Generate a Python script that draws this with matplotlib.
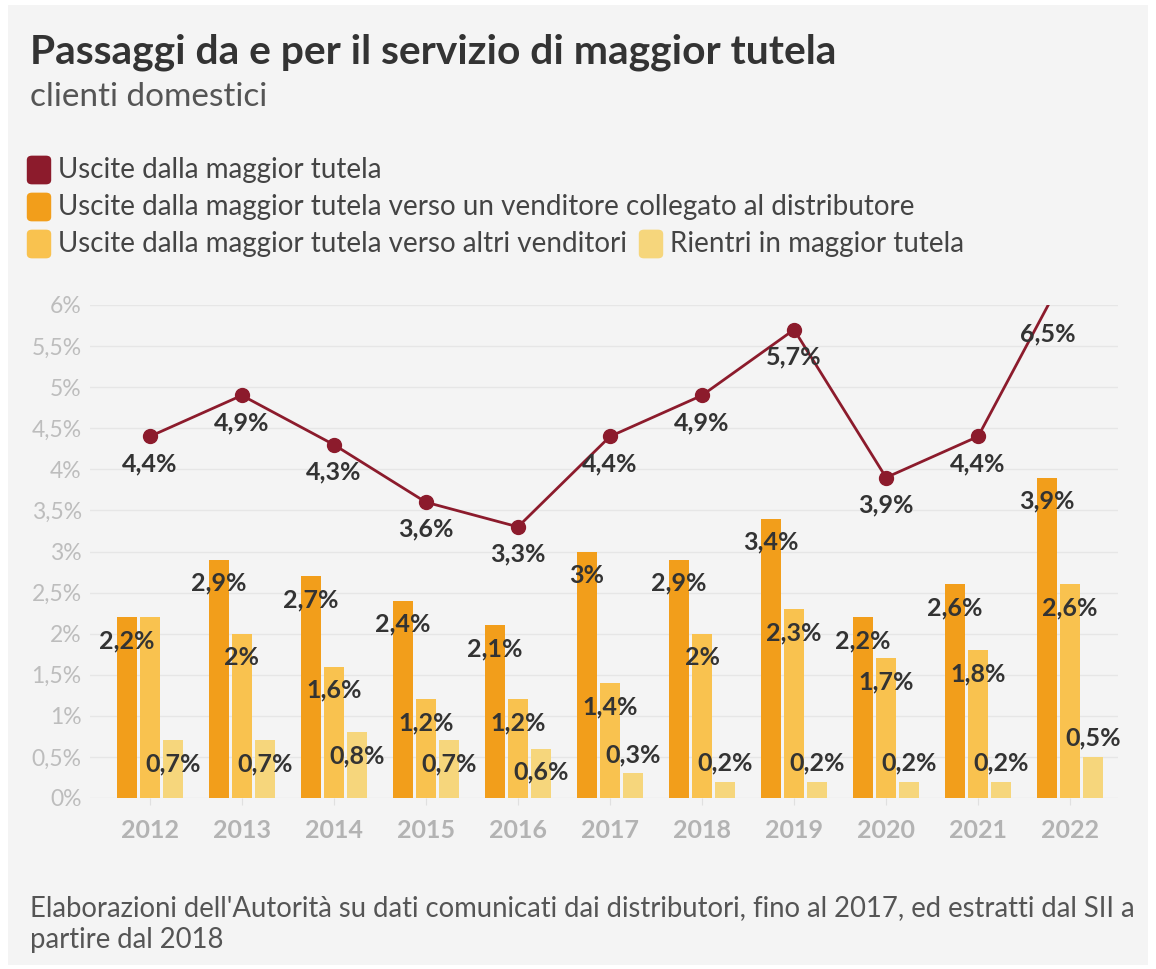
import matplotlib
matplotlib.use("Agg")
import matplotlib.pyplot as plt
from matplotlib.patches import FancyBboxPatch, Rectangle
import numpy as np

plt.rcParams['font.family'] = ['Lato', 'DejaVu Sans']

years = [2012, 2013, 2014, 2015, 2016, 2017, 2018, 2019, 2020, 2021, 2022]
uscite_totali = [4.4, 4.9, 4.3, 3.6, 3.3, 4.4, 4.9, 5.7, 3.9, 4.4, 6.5]
uscite_collegato = [2.2, 2.9, 2.7, 2.4, 2.1, 3.0, 2.9, 3.4, 2.2, 2.6, 3.9]
uscite_altri = [2.2, 2.0, 1.6, 1.2, 1.2, 1.4, 2.0, 2.3, 1.7, 1.8, 2.6]
rientri = [0.7, 0.7, 0.8, 0.7, 0.6, 0.3, 0.2, 0.2, 0.2, 0.2, 0.5]

series_names = [
    "Uscite dalla maggior tutela",
    "Uscite dalla maggior tutela verso un venditore collegato al distributore",
    "Uscite dalla maggior tutela verso altri venditori",
    "Rientri in maggior tutela",
]
yticks = [0, 0.5, 1, 1.5, 2, 2.5, 3, 3.5, 4, 4.5, 5, 5.5, 6]

title = "Passaggi da e per il servizio di maggior tutela"
subtitle = "clienti domestici"
footer_lines = ["Elaborazioni dell'Autorità su dati comunicati dai distributori, fino al 2017, ed estratti dal SII a",
                "partire dal 2018"]

C_LINE = "#8c1b2c"
C_B1 = "#f29e1b"
C_B2 = "#f9c24f"
C_B3 = "#f6d67c"
BG = "#f4f4f4"
TXT = "#333333"

def fmt(v):
    s = f"{v:g}".replace(".", ",")
    return s + "%"

W, H = 1156, 969
fig = plt.figure(figsize=(W / 100, H / 100), dpi=100)
fig.patch.set_facecolor("white")
fig.patches.append(Rectangle((8 / W, 4 / H), (1148 - 8) / W, (965 - 5) / H,
                             transform=fig.transFigure, facecolor=BG, edgecolor="none", zorder=-10))

ax = fig.add_axes([90 / W, 1 - 798 / H, (1118 - 90) / W, (798 - 305) / H])
ax.set_facecolor("none")
ymax = 6
ax.set_xlim(2011.35, 2022.52)
ax.set_ylim(0, ymax)

x = np.array(years, dtype=float)
bw = 0.215
off = 0.25
px_per_unit = (798 - 305) / ymax
LBL = 18

bar_labels = []
for vals, col, dx in [(uscite_collegato, C_B1, -off), (uscite_altri, C_B2, 0.0), (rientri, C_B3, off)]:
    ax.bar(x + dx, vals, width=bw, color=col, zorder=2)
    for xi, v in zip(x + dx, vals):
        inside = v * px_per_unit >= 45
        dy = -17 if inside else 13.5
        t = ax.annotate(fmt(v), (xi, v), xytext=(0, dy), textcoords="offset points",
                        ha="center", va="center", fontsize=LBL, fontweight="bold", color=TXT, zorder=5)
        bar_labels.append(t)

ax.plot(x, uscite_totali, color=C_LINE, lw=2.0, marker="o", markersize=10, zorder=4, clip_on=True)
for i, (xi, v) in enumerate(zip(x, uscite_totali)):
    lx, ly = xi, v
    if v > ymax and i > 0:
        # point is off the chart: label where the line leaves the plot area
        x0, y0 = x[i - 1], uscite_totali[i - 1]
        lx = x0 + (xi - x0) * (ymax - y0) / (v - y0)
        ly = ymax
    ax.annotate(fmt(v), (lx, ly), xytext=(0, -20.5 if v > ymax else -19.5), textcoords="offset points",
                ha="center", va="center", fontsize=LBL, fontweight="bold", color=TXT, zorder=5)

ax.set_yticks(yticks)
ax.set_yticklabels([fmt(t) for t in yticks], fontsize=16.5, color="#bdbdbd")
ax.set_xticks(years)
ax.set_xticklabels([str(y) for y in years], fontsize=18, fontweight="bold", color="#b3b3b3")
ax.tick_params(axis="y", length=0, pad=6)
ax.tick_params(axis="x", length=5, color="#e0e0e0", pad=10)
ax.grid(axis="y", color="#e6e6e6", lw=1, zorder=0)
for s in ax.spines.values():
    s.set_visible(False)

# hide bar labels that collide with an earlier one (as the original chart does)
fig.canvas.draw()
r = fig.canvas.get_renderer()
kept = []
for t in bar_labels:
    bb = t.get_window_extent(r).expanded(0.9, 0.7)
    if any(bb.overlaps(k) for k in kept):
        t.set_visible(False)
    else:
        kept.append(bb)

fig.text(30 / W, 1 - 52 / H, title, fontsize=29.3, fontweight="bold", color=TXT, va="center", ha="left")
fig.text(30 / W, 1 - 97 / H, subtitle, fontsize=24, color="#555555", va="center", ha="left")

def leg_item(px, py, col, label):
    fig.patches.append(FancyBboxPatch(((px + 4) / W, (H - py - 10) / H), 14 / W, 20 / H,
                                      boxstyle="round,pad=0.0045", transform=fig.transFigure,
                                      facecolor=col, edgecolor="none"))
    fig.text((px + 30) / W, 1 - py / H, label, fontsize=20, color="#444444", va="center", ha="left")

leg_item(28, 170, C_LINE, series_names[0])
leg_item(28, 207, C_B1, series_names[1])
leg_item(28, 244, C_B2, series_names[2])
leg_item(640, 244, C_B3, series_names[3])

fig.text(30 / W, 1 - 908 / H, footer_lines[0], fontsize=19.8, color="#555555", va="center", ha="left")
fig.text(30 / W, 1 - 940 / H, footer_lines[1], fontsize=19.8, color="#555555", va="center", ha="left")

fig.savefig("out.png", dpi=100, facecolor=fig.get_facecolor())
